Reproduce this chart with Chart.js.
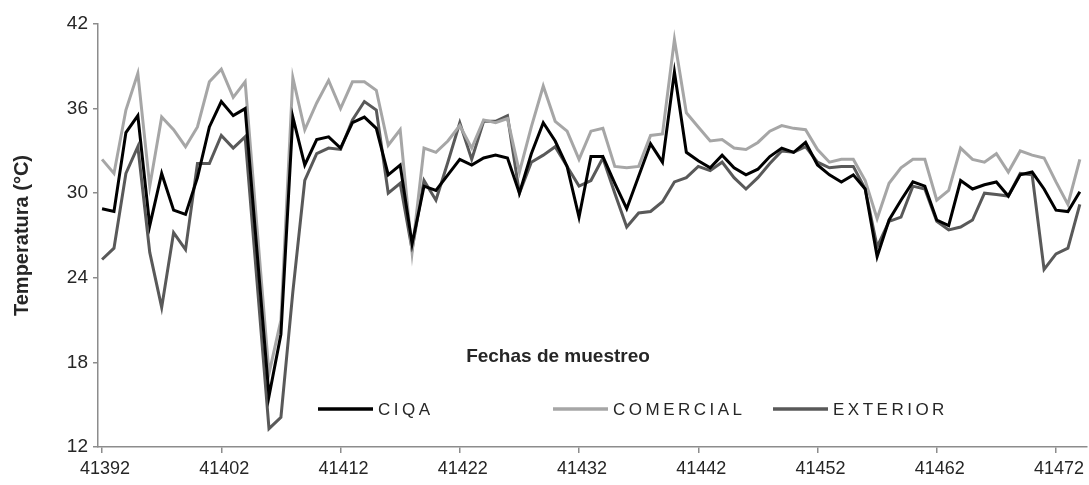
<!DOCTYPE html>
<html>
<head>
<meta charset="utf-8">
<script src="https://cdn.jsdelivr.net/npm/chart.js@4.4.1/dist/chart.umd.min.js"></script>
<style>
  html, body { margin: 0; padding: 0; background: #fff; }
  #wrap { width: 1089px; height: 485px; }
</style>
</head>
<body>
<div id="wrap"><canvas id="graficoTemp"></canvas></div>
<script>
// Fechas de muestreo (número de serie de Excel)
const fechas = [
  41392, 41393, 41394, 41395, 41396, 41397, 41398, 41399, 41400, 41401,
  41402, 41403, 41404, 41405, 41406, 41407, 41408, 41409, 41410, 41411,
  41412, 41413, 41414, 41415, 41416, 41417, 41418, 41419, 41420, 41421,
  41422, 41423, 41424, 41425, 41426, 41427, 41428, 41429, 41430, 41431,
  41432, 41433, 41434, 41435, 41436, 41437, 41438, 41439, 41440, 41441,
  41442, 41443, 41444, 41445, 41446, 41447, 41448, 41449, 41450, 41451,
  41452, 41453, 41454, 41455, 41456, 41457, 41458, 41459, 41460, 41461,
  41462, 41463, 41464, 41465, 41466, 41467, 41468, 41469, 41470, 41471,
  41472, 41473, 41474
];

// Temperatura (°C) por invernadero
const ciqa = [
  28.9, 28.7, 34.3, 35.5, 27.7, 31.4, 28.8, 28.5, 31.1, 34.7, 36.5, 35.5, 36.0,
  25.8, 15.6, 20.0, 35.4,
  32.0, 33.8, 34.0, 33.2, 35.0, 35.4, 34.6, 31.3, 32.0, 26.4, 30.5,
  30.2, 31.3, 32.4, 32.0, 32.5, 32.7, 32.5, 30.0, 32.8, 35.0, 33.7, 31.9, 28.3, 32.6,
  32.6, 30.7, 28.9, 31.2, 33.5, 32.2, 38.6, 32.9, 32.3, 31.8, 32.7, 31.8, 31.3, 31.7,
  32.6, 33.2, 32.9, 33.6, 32.0, 31.3, 30.8, 31.3, 30.3, 25.5, 28.1, 29.5, 30.8, 30.5,
  28.1, 27.7, 30.9, 30.3, 30.6, 30.8, 29.8, 31.3, 31.5, 30.3, 28.8, 28.7, 30.1
];
const comercial = [
  32.4, 31.4, 35.9, 38.5, 30.5, 35.4, 34.5, 33.3, 34.7, 37.9, 38.8, 36.8, 37.9,
  27.5, 17.2, 21.0, 38.2,
  34.5, 36.4, 38.0, 36.0, 37.9, 37.9, 37.3, 33.4, 34.5, 25.8, 33.2,
  32.9, 33.7, 34.8, 33.2, 35.2, 35.0, 35.3, 31.5, 34.7, 37.6, 35.1, 34.4, 32.4, 34.4,
  34.6, 31.9, 31.8, 31.9, 34.1, 34.2, 40.9, 35.7, 34.7, 33.7, 33.8, 33.2, 33.1, 33.6,
  34.4, 34.8, 34.6, 34.5, 33.1, 32.2, 32.4, 32.4, 30.9, 28.2, 30.7, 31.8, 32.4, 32.4,
  29.5, 30.2, 33.2, 32.4, 32.2, 32.8, 31.5, 33.0, 32.7, 32.5, 30.8, 29.2, 32.4
];
const exterior = [
  25.3, 26.1, 31.4, 33.3, 25.8, 21.9, 27.2, 26.0, 32.1, 32.1, 34.1, 33.2, 34.0,
  23.7, 13.3, 14.1, 23.0,
  30.9, 32.8, 33.2, 33.1, 35.2, 36.5, 35.9, 30.0, 30.7, 26.0, 30.9,
  29.5, 32.2, 35.0, 32.4, 35.1, 35.1, 35.5, 30.0, 32.2, 32.7, 33.3, 31.9, 30.5, 30.9,
  32.5, 30.0, 27.6, 28.6, 28.7, 29.4, 30.8, 31.1, 31.9, 31.6, 32.2, 31.1, 30.3, 31.1,
  32.1, 33.0, 32.9, 33.3, 32.2, 31.8, 31.9, 31.9, 30.3, 26.2, 28.0, 28.3, 30.5, 30.3,
  28.0, 27.4, 27.6, 28.1, 30.0, 29.9, 29.8, 31.4, 31.3, 24.6, 25.7, 26.1, 29.2
];

const marcasX = [41392, 41402, 41412, 41422, 41432, 41442, 41452, 41462, 41472];
const marcasY = [12, 18, 24, 30, 36, 42];

const series = [
  { nombre: 'CIQA', datos: ciqa, color: '#000000' },
  { nombre: 'COMERCIAL', datos: comercial, color: '#a6a6a6' },
  { nombre: 'EXTERIOR', datos: exterior, color: '#595959' }
];

const fuente = '"Liberation Sans", Arial, sans-serif';
const gris = '#8c8c8c';

// Título del eje X y leyenda dibujados dentro del área de trazado
const textosInternos = {
  id: 'textosInternos',
  afterDraw(chart) {
    const { ctx } = chart;
    ctx.save();
    ctx.fillStyle = '#262626';
    ctx.textBaseline = 'middle';
    ctx.font = 'bold 19px ' + fuente;
    ctx.textAlign = 'center';
    ctx.fillText('Fechas de muestreo', 558, 357);

    const posLeyenda = [318, 553, 773];
    ctx.font = '17px ' + fuente;
    ctx.textAlign = 'left';
    ctx.letterSpacing = '3.5px';
    series.forEach((s, i) => {
      const x0 = posLeyenda[i];
      ctx.strokeStyle = s.color;
      ctx.lineWidth = 3.5;
      ctx.beginPath();
      ctx.moveTo(x0, 409);
      ctx.lineTo(x0 + 55, 409);
      ctx.stroke();
      ctx.fillStyle = '#262626';
      ctx.fillText(s.nombre, x0 + 60, 410);
    });
    ctx.restore();
  }
};

new Chart(document.getElementById('graficoTemp').getContext('2d'), {
  type: 'line',
  data: {
    datasets: series.map(s => ({
      label: s.nombre,
      data: fechas.map((f, i) => ({ x: f, y: s.datos[i] })),
      borderColor: s.color,
      borderWidth: 3,
      pointRadius: 0,
      tension: 0,
      fill: false
    }))
  },
  options: {
    responsive: true,
    maintainAspectRatio: false,
    animation: false,
    devicePixelRatio: 1,
    layout: { padding: { top: 24, right: 2, left: 0, bottom: 0 } },
    plugins: {
      legend: { display: false },
      tooltip: { enabled: false }
    },
    scales: {
      x: {
        type: 'linear',
        min: 41391.66,
        max: 41474.6,
        afterBuildTicks: scale => { scale.ticks = marcasX.map(v => ({ value: v })); },
        afterFit: scale => { scale.height = 38; },
        ticks: {
          color: '#262626',
          font: { size: 18, family: fuente },
          maxRotation: 0,
          autoSkip: false,
          padding: 5,
          labelOffset: 3,
          callback: v => String(v)
        },
        grid: { drawOnChartArea: false, drawTicks: true, tickLength: 6, color: gris, lineWidth: 1.5 },
        border: { color: gris, width: 1.5 }
      },
      y: {
        min: 12,
        max: 42,
        afterBuildTicks: scale => { scale.ticks = marcasY.map(v => ({ value: v })); },
        afterFit: scale => { scale.width = 98; },
        ticks: {
          color: '#262626',
          font: { size: 19, family: fuente },
          padding: 5
        },
        grid: { drawOnChartArea: false, drawTicks: true, tickLength: 5, color: gris, lineWidth: 1.5 },
        border: { color: gris, width: 1.5 },
        title: {
          display: true,
          text: 'Temperatura (°C)',
          color: '#262626',
          font: { size: 20, weight: 'bold', family: fuente },
          padding: { top: 10, bottom: 2 }
        }
      }
    }
  },
  plugins: [textosInternos]
});
</script>
</body>
</html>
